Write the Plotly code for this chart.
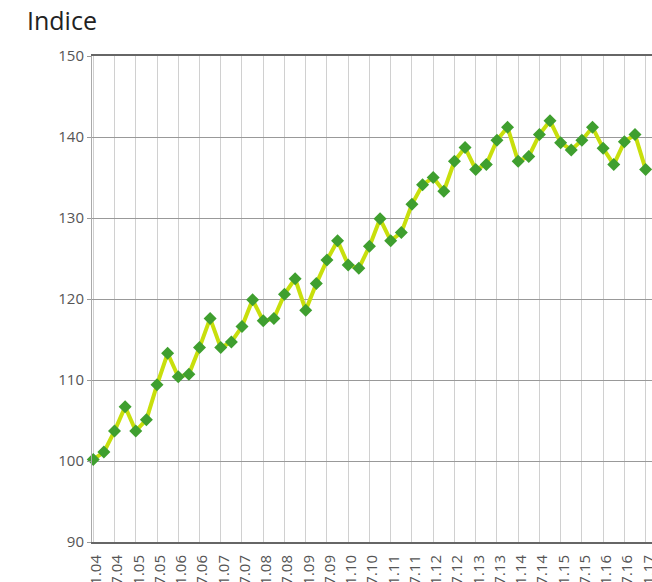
import plotly.graph_objects as go

periods = []
for yr in range(4, 18):
    for m in (1, 4, 7, 10):
        periods.append(f"{m:02d}.{yr:02d}")
periods = periods[:53]

values = [100.2, 101.1, 103.7, 106.7, 103.7, 105.1, 109.4, 113.3,
          110.4, 110.7, 114.0, 117.6, 114.0, 114.7, 116.6, 119.9,
          117.3, 117.6, 120.6, 122.5, 118.6, 121.9, 124.8, 127.2,
          124.2, 123.8, 126.5, 129.9, 127.2, 128.2, 131.7, 134.1,
          135.0, 133.3, 137.0, 138.7, 136.0, 136.6, 139.6, 141.2,
          137.0, 137.6, 140.3, 142.0, 139.3, 138.4, 139.6, 141.2,
          138.6, 136.6, 139.4, 140.3, 136.0]

tick_idx = list(range(0, 53, 2))
tick_text = [periods[i] for i in tick_idx]
x_idx = list(range(len(values)))

FONT = "Open Sans, sans-serif"
W, H = 652, 582

fig = go.Figure()
fig.add_trace(go.Scatter(
    x=x_idx, y=values, mode="lines+markers",
    line=dict(color="#c8df0c", width=4),
    marker=dict(symbol="diamond", size=10, color="#3f9f2f"),
    cliponaxis=False, hoverinfo="skip", showlegend=False,
))

fig.update_layout(
    width=W, height=H,
    margin=dict(l=92, r=0, t=56, b=40, autoexpand=False),
    paper_bgcolor="white", plot_bgcolor="white",
    font=dict(family=FONT, color="#555"),
    title=dict(text="Indice", x=27 / W, xref="container", xanchor="left",
               y=1 - 21 / H, yref="container", yanchor="middle",
               font=dict(size=25, color="#222", family=FONT)),
)

fig.update_xaxes(
    range=[-0.12, 52.6], automargin=False,
    tickmode="array", tickvals=tick_idx, ticktext=tick_text,
    tickangle=-90, tickfont=dict(size=15, color="#555"),
    showgrid=True, gridcolor="#d0d0d0", gridwidth=1,
    showline=True, linecolor="#666", linewidth=2, mirror=True,
    zeroline=False, ticks="", ticklabelshift=3, ticklabelstandoff=5,
    ticklabeloverflow="allow",
)
fig.update_yaxes(
    range=[90, 150], dtick=10, automargin=False,
    tickfont=dict(size=15, color="#555"),
    showgrid=True, gridcolor="#999", gridwidth=1,
    showline=True, linecolor="#aaa", linewidth=1,
    ticks="outside", ticklen=4, tickcolor="#999",
    zeroline=False,
)

fig.write_html(
    "out.html",
    config={"displayModeBar": False},
    post_script=("document.body.style.margin='0';"
                 "document.body.style.overflow='hidden';"
                 "document.documentElement.style.overflow='hidden';"),
)
